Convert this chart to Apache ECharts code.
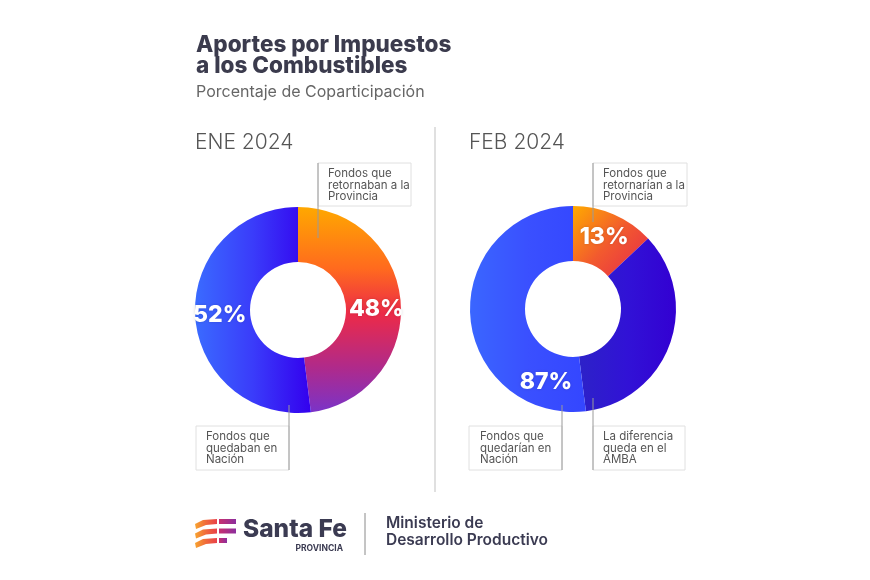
<!DOCTYPE html>
<html>
<head>
<meta charset="utf-8">
<script src="https://cdn.jsdelivr.net/npm/echarts@6/dist/echarts.min.js"></script>
<style>
html,body{margin:0;padding:0;background:#fff;}
#c{width:870px;height:580px;}
</style>
</head>
<body>
<div id="c"></div>
<script>
// ---- data ----
var titleLines = ['Aportes por Impuestos', 'a los Combustibles'];
var subtitle = 'Porcentaje de Coparticipación';
var periods = ['ENE 2024', 'FEB 2024'];
var eneNames = ['Fondos que retornaban a la Provincia', 'Fondos que quedaban en Nación'];
var eneValues = [48, 52];
var febNames = ['Fondos que retornarían a la Provincia', 'La diferencia queda en el AMBA', 'Fondos que quedarían en Nación'];
var febValues = [13, 35, 52];

var chart = echarts.init(document.getElementById('c'));
var FONT = 'Inter, "Noto Sans", sans-serif';

function lg(x1, y1, x2, y2, stops) {
  return new echarts.graphic.LinearGradient(x1, y1, x2, y2, stops.map(function (c, i) {
    return Array.isArray(c) ? { offset: c[0], color: c[1] } : { offset: i / (stops.length - 1), color: c };
  }));
}

var provEne = lg(0, 0, 0, 1, [[0, '#FFA800'], [0.3, '#FF6A1E'], [0.52, '#EC2A48'], [0.78, '#B02A8A'], [1, '#7A33C8']]);
var nacEne = lg(0, 0, 1, 0, ['#3A6BFF', '#3A3CFA', '#3300EE']);
var provFeb = lg(0, 0, 1, 1, ['#FFAA00', '#F25A2E', '#E6284C']);
var ambaFeb = lg(0, 0, 1, 0, ['#2D22C8', '#3112D6', '#3300D2']);
var nacFeb = lg(0, 0, 1, 0, ['#3A66FF', '#3A50FF', '#3446FF']);

var labelStyle = {
  show: true, position: 'inside', color: '#fff', fontFamily: FONT,
  fontSize: 23, fontWeight: 800, formatter: '{c}%',
  textShadowColor: 'rgba(0,0,0,0.15)', textShadowBlur: 3
};

function box(x, y, w, h, lines, tx, leader) {
  return [
    { type: 'rect', shape: { x: x, y: y, width: w, height: h }, style: { fill: 'none', stroke: '#e0e0e0', lineWidth: 1 }, z: 10 },
    { type: 'line', shape: leader, style: { stroke: '#9a9a9a', lineWidth: 1 }, z: 11 },
    { type: 'text', x: tx, y: y + 5, style: { text: lines.join('\n'), fill: '#555', font: '11.5px ' + FONT, lineHeight: 11.5 }, z: 11 }
  ];
}

function splitName(n) {
  var w = n.split(' ');
  if (w.length === 6) return [w[0] + ' ' + w[1], w[2] + ' ' + w[3] + ' ' + w[4], w[5]];
  if (w.length === 5) return [w[0] + ' ' + w[1], w[2] + ' ' + w[3], w[4]];
  if (w.length === 4) return [w[0] + ' ' + w[1], w[2], w[3]];
  return [n];
}

var graphics = [
  { type: 'text', x: 196, y: 34, style: { text: titleLines.join('\n'), fill: '#3b3b4d', font: '800 22.5px ' + FONT, lineHeight: 21.5 } },
  { type: 'text', x: 196, y: 84, style: { text: subtitle, fill: '#666', font: '16px ' + FONT } },
  { type: 'text', x: 195, y: 132, style: { text: periods[0], fill: '#555', font: '300 21px ' + FONT } },
  { type: 'text', x: 469, y: 132, style: { text: periods[1], fill: '#555', font: '300 21px ' + FONT } },
  { type: 'line', shape: { x1: 435, y1: 127, x2: 435, y2: 492 }, style: { stroke: '#d6d6d6', lineWidth: 1.5 } },
  { type: 'text', x: 546, y: 382, style: { text: (febValues[1] + febValues[2]) + '%', fill: '#fff', font: '800 23px ' + FONT, align: 'center', verticalAlign: 'middle', textShadowColor: 'rgba(0,0,0,0.15)', textShadowBlur: 3 }, z: 12 },
  // footer
  { type: 'text', x: 243, y: 517, style: { text: 'Santa Fe', fill: '#3b3b52', font: '800 24.5px ' + FONT } },
  { type: 'text', x: 343, y: 544, style: { text: 'PROVINCIA', fill: '#3b3b52', font: 'bold 8.5px ' + FONT, align: 'right' } },
  { type: 'line', shape: { x1: 365, y1: 513, x2: 365, y2: 555 }, style: { stroke: '#8a8a8a', lineWidth: 1 } },
  { type: 'text', x: 386, y: 515, style: { text: 'Ministerio de\nDesarrollo Productivo', fill: '#3b3b52', font: '600 15.5px ' + FONT, lineHeight: 17 } }
];

// logo stripes
var stripeY = [519, 528.5, 538];
stripeY.forEach(function (sy, i) {
  graphics.push({
    type: 'polygon',
    shape: { points: [[195, sy + 5], [203, sy + 1], [217, sy], [217, sy + 5], [206, sy + 6], [196, sy + 10]] },
    style: { fill: lg(0, 0, 1, 0, ['#F7A530', '#F06A3A', '#E8404A']) }
  });
  graphics.push({
    type: 'rect',
    shape: { x: 219, y: sy, width: i === 2 ? 8 : 17, height: 5 },
    style: { fill: lg(0, 0, 1, 0, ['#C8306E', '#8C2E9E']) }
  });
});

graphics = graphics
  .concat(box(318, 163, 93, 43, splitName(eneNames[0]), 328, { x1: 318, y1: 163, x2: 318, y2: 238 }))
  .concat(box(196, 426, 93, 44, splitName(eneNames[1]), 206, { x1: 289, y1: 405, x2: 289, y2: 470 }))
  .concat(box(593, 163, 94, 43, splitName(febNames[0]), 603, { x1: 593, y1: 163, x2: 593, y2: 222 }))
  .concat(box(469, 426, 93, 44, splitName(febNames[2]), 480, { x1: 562, y1: 405, x2: 562, y2: 470 }))
  .concat(box(593, 426, 92, 44, splitName(febNames[1]), 603, { x1: 593, y1: 398, x2: 593, y2: 470 }));

var option = {
  backgroundColor: '#fff',
  animation: false,
  series: [
    {
      type: 'pie', center: [298, 310], radius: [48, 103], startAngle: 90, clockwise: true,
      silent: true, labelLine: { show: false }, label: labelStyle,
      data: [
        { name: eneNames[0], value: eneValues[0], itemStyle: { color: provEne }, label: { offset: [0, 4] } },
        { name: eneNames[1], value: eneValues[1], itemStyle: { color: nacEne } }
      ]
    },
    {
      type: 'pie', center: [573, 309], radius: [48, 103], startAngle: 90, clockwise: true,
      silent: true, labelLine: { show: false }, label: labelStyle,
      data: [
        { name: febNames[0], value: febValues[0], itemStyle: { color: provFeb } },
        { name: febNames[1], value: febValues[1], itemStyle: { color: ambaFeb }, label: { show: false } },
        { name: febNames[2], value: febValues[2], itemStyle: { color: nacFeb }, label: { show: false } }
      ]
    }
  ],
  graphic: graphics
};
chart.setOption(option);
</script>
</body>
</html>
